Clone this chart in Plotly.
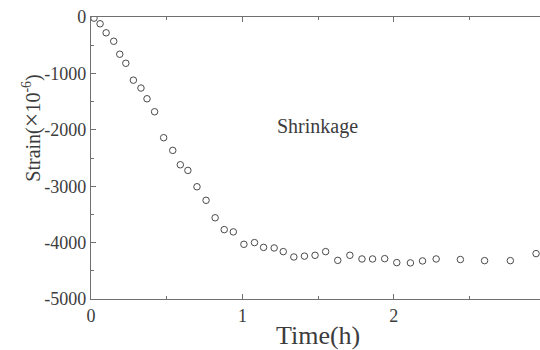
import plotly.graph_objects as go

# Measured shrinkage strain over time
time_h = [0.02, 0.06, 0.10, 0.15, 0.19, 0.23, 0.28, 0.33, 0.37, 0.42,
          0.48, 0.54, 0.59, 0.64, 0.70, 0.76, 0.82, 0.88, 0.94, 1.01,
          1.08, 1.14, 1.21, 1.27, 1.34, 1.41, 1.48, 1.55, 1.63, 1.71,
          1.79, 1.86, 1.94, 2.02, 2.11, 2.19, 2.28, 2.44, 2.60, 2.77, 2.94]
strain = [-20, -120, -280, -430, -660, -820, -1120, -1260, -1450, -1680,
          -2140, -2365, -2620, -2720, -3010, -3250, -3560, -3770, -3810, -4030,
          -4000, -4085, -4095, -4160, -4255, -4240, -4225, -4160, -4315, -4225,
          -4290, -4290, -4285, -4355, -4360, -4325, -4290, -4300, -4320, -4320, -4195]

x_tick_vals = [0, 1, 2]
x_tick_text = ["0", "1", "2"]
y_tick_vals = [0, -1000, -2000, -3000, -4000, -5000]
y_tick_text = ["0", "-1000", "-2000", "-3000", "-4000", "-5000"]

FONT = "Liberation Serif"
TEXT = "#3c3c3c"
AXIS = "#707070"

fig = go.Figure()
fig.add_trace(go.Scatter(
    x=time_h, y=strain, mode="markers",
    marker=dict(symbol="circle-open", size=6.5, color="#4a4a4a",
                line=dict(width=1, color="#4a4a4a")),
    showlegend=False,
))

axis_common = dict(
    showgrid=False, zeroline=False, showline=True, linecolor=AXIS, linewidth=1.3,
    ticks="inside", tickcolor=AXIS, tickwidth=1.2, ticklen=5,
    tickfont=dict(family=FONT, size=18, color=TEXT),
)

fig.update_xaxes(
    range=[0, 2.966], tickmode="array", tickvals=x_tick_vals, ticktext=x_tick_text,
    mirror="ticks",
    minor=dict(ticks="inside", dtick=0.5, tick0=0, ticklen=3, tickcolor=AXIS, tickwidth=1),
    **axis_common,
)
fig.update_yaxes(
    range=[-5000, 0], tickmode="array", tickvals=y_tick_vals, ticktext=y_tick_text,
    minor=dict(ticks="inside", dtick=500, tick0=0, ticklen=3, tickcolor=AXIS, tickwidth=1),
    **axis_common,
)

fig.add_annotation(
    text="Time(h)", xref="paper", yref="paper", x=0.506, y=-0.128,
    showarrow=False, font=dict(family=FONT, size=26, color=TEXT),
    xanchor="center", yanchor="middle",
)
fig.add_annotation(
    text="Strain(<span style=\"font-size:26px\">\u00d7</span>10<sup>-6</sup>)",
    xref="paper", yref="paper", x=-0.133, y=0.605,
    textangle=-90, showarrow=False, font=dict(family=FONT, size=20, color=TEXT),
    xanchor="center", yanchor="middle",
)
fig.add_annotation(
    text="Shrinkage", xref="x", yref="y", x=1.494, y=-1948,
    showarrow=False, font=dict(family=FONT, size=20, color=TEXT),
    xanchor="center", yanchor="middle",
)

fig.update_layout(
    width=540, height=350,
    margin=dict(l=90.7, r=0, t=17.3, b=51),
    paper_bgcolor="white", plot_bgcolor="white",
)

fig.write_html("out.html")
